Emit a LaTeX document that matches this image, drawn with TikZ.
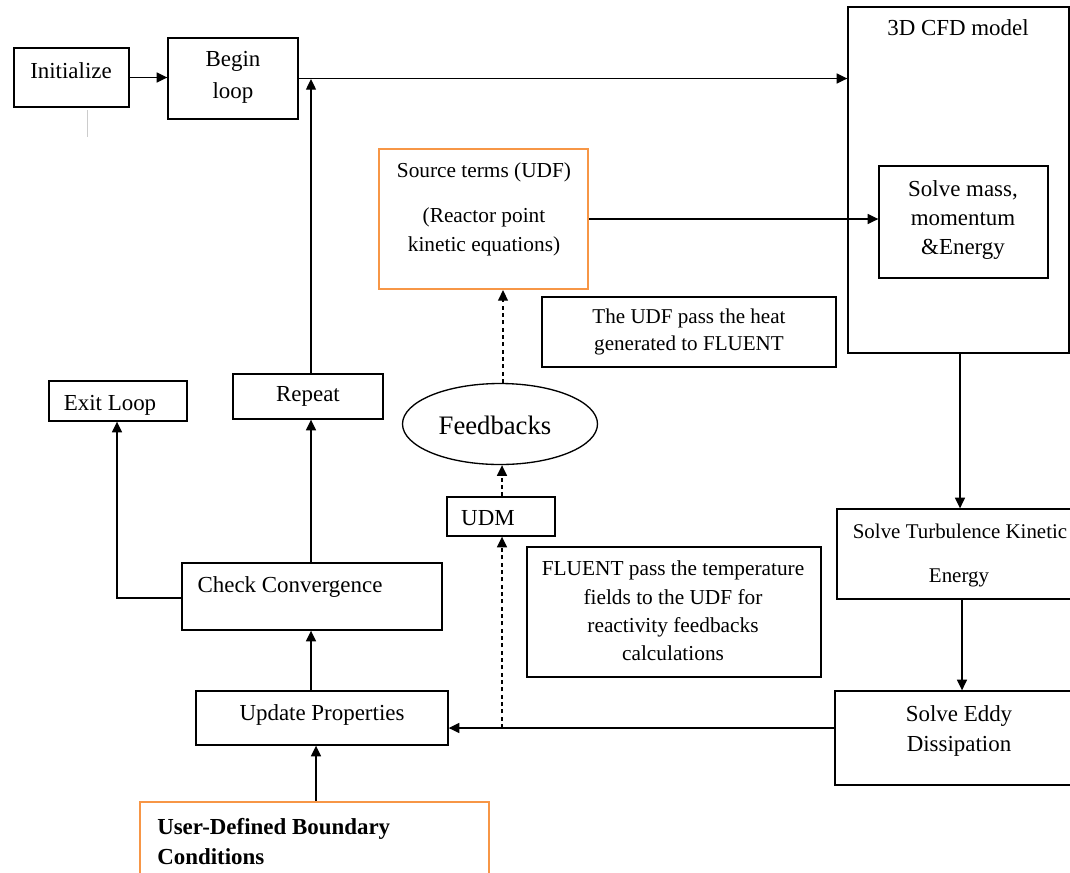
\documentclass[tikz,border=0pt]{standalone}
\usepackage{fontspec}
\setmainfont{Liberation Serif}
\usetikzlibrary{fit,shapes.geometric,arrows.meta}
\definecolor{boxorange}{RGB}{247,150,70}
\begin{document}
\begin{tikzpicture}[x=0.75pt,y=-0.75pt,
  box/.style={draw, line width=1pt, inner sep=0pt},
  obox/.style={draw=boxorange, line width=1.6pt, inner sep=0pt},
  txt/.style={inner sep=0pt, align=center, font=\fontsize{17.2}{21}\selectfont},
  arr/.style={line width=1pt, -{Triangle[length=8pt,width=7.5pt]}},
  darr/.style={arr, dash pattern=on 3pt off 2.5pt}]
\useasboundingbox (0,0) rectangle (1070,872);

% boxes
\node[box, fit={(14,48) (129,107)}] (init) {};
\node[box, fit={(168,38) (298,119)}] (begin) {};
\node[box, fit={(848,7) (1069,353)}] (cfd) {};
\node[box, fit={(879,166) (1048,278)}] (mass) {};
\node[obox, fit={(379,149) (588,289)}] (source) {};
\node[box, fit={(542,297) (836,367)}] (heat) {};
\node[draw, line width=1pt, ellipse, inner sep=0pt, minimum width=146.25pt, minimum height=60.75pt] (fb) at (500,424) {};
\node[box, fit={(447,497) (555,536)}] (udm) {};
\node[box, fit={(527,547) (821,677)}] (fluent) {};
\node[box, fit={(49,381) (187,421)}] (exit) {};
\node[box, fit={(233,374) (383,419)}] (repeat) {};
\node[box, fit={(182,563) (442,630)}] (check) {};
\node[box, fit={(196,691) (448,745)}] (update) {};
\node[obox, fit={(140,802) (489,885)}] (udbc) {};
\node[box, fit={(837,509) (1080,599)}] (turb) {};
\node[box, fit={(835,691) (1080,785)}] (eddy) {};

% texts
\node[txt] (init-t) at (71,71) {Initialize};
\node[txt, font=\fontsize{17.2}{24}\selectfont] (begin-t) at (233,77) {Begin\\loop};
\node[txt] (cfd-t) at (958,28) {3D CFD model};
\node[txt, font=\fontsize{17.2}{22}\selectfont] (mass-t) at (963,220) {Solve mass,\\momentum\\\&Energy};
\node[txt, font=\fontsize{16}{21}\selectfont] (src-t1) at (484,172) {Source terms (UDF)};
\node[txt, font=\fontsize{16}{21.75}\selectfont] (src-t2) at (484,232) {(Reactor point\\kinetic equations)};
\node[txt, font=\fontsize{15.8}{20.25}\selectfont] (heat-t) at (689,332) {The UDF pass the heat\\generated to FLUENT};
\node[txt, font=\fontsize{20}{24}\selectfont] (fb-t) at (495,425) {Feedbacks};
\node[txt] (udm-t) at (488,518) {UDM};
\node[txt, font=\fontsize{16}{21.2}\selectfont] (fluent-t) at (673,611) {FLUENT pass the temperature\\fields to the UDF for\\reactivity feedbacks\\calculations};
\node[txt] (exit-t) at (110,405) {Exit Loop};
\node[txt] (repeat-t) at (308,396) {Repeat};
\node[txt] (check-t) at (290,587) {Check Convergence};
\node[txt] (update-t) at (322,715) {Update Properties};
\node[txt, align=left, anchor=west, font=\fontsize{17.2}{22.5}\selectfont\bfseries] (udbc-t) at (157,842) {User-Defined Boundary\\Conditions};
\node[txt, font=\fontsize{15.7}{20}\selectfont] (turb-t1) at (960,531) {Solve Turbulence Kinetic};
\node[txt, font=\fontsize{15.7}{20}\selectfont] (turb-t2) at (959,578) {Energy};
\node[txt, font=\fontsize{17.2}{22.5}\selectfont] (eddy-t) at (959,731) {Solve Eddy\\Dissipation};

% helper coordinates
\coordinate (j) at (311,79);
\coordinate (d) at (502,728);
\coordinate (g1) at (87,110);
\coordinate (g2) at (87,137);

% connectors
\draw[arr] (init.east) -- (init.east -| begin.west);
\draw[arr] (begin.east) -- (begin.east -| cfd.west);
\draw[arr] (repeat.north -| j) -- (j);
\draw[arr] (source.east) -- (source.east -| mass.west);
\draw[darr] (fb.north -| 503,0) -- (source.south -| 503,0);
\draw[darr] (udm.north -| d) -- (fb.south -| d);
\draw[darr] (d) -- (d |- udm.south);
\draw[arr] (eddy.west |- d) -- (update.east |- d);
\draw[arr] (cfd.south -| 960,0) -- (turb.north -| 960,0);
\draw[arr] (turb.south -| 962,0) -- (eddy.north -| 962,0);
\draw[arr] (check.north -| j) -- (repeat.south -| j);
\draw[arr] (update.north -| j) -- (check.south -| j);
\draw[arr] (udbc.north -| 316,0) -- (update.south -| 316,0);
\draw[arr] (check.west |- 0,598) -| (exit.south -| 117,0);
\draw[line width=0.6pt, black!20] (g1) -- (g2);
\end{tikzpicture}
\end{document}
